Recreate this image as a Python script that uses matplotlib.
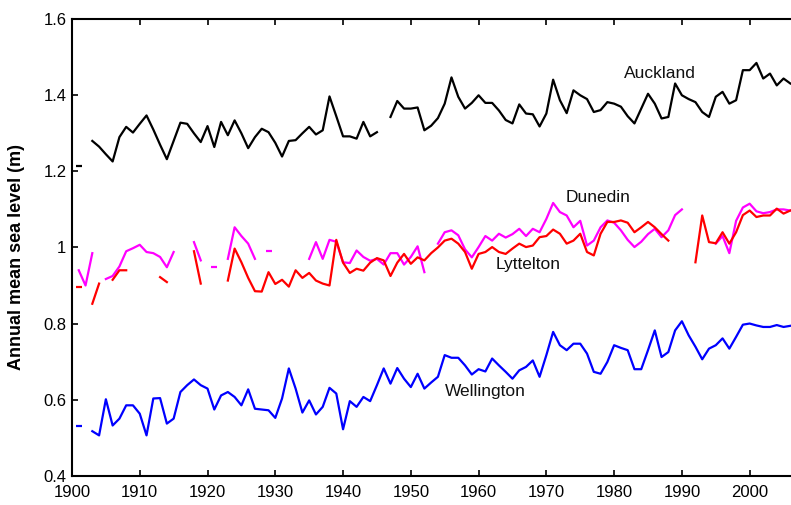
import numpy as np
import matplotlib
matplotlib.use("Agg")
import matplotlib.pyplot as plt

plt.rcParams["font.family"] = ["Liberation Sans", "DejaVu Sans"]

nan = np.nan
years = np.arange(1900, 2007)

# annual means, one row per decade (1900s ... 2000s)
auckland = [
    nan, 1.215, nan, 1.28, 1.265, 1.245, 1.226, 1.29, 1.317, 1.302,
    1.325, 1.347, 1.31, 1.27, 1.232, 1.28, 1.328, 1.325, 1.30, 1.277,
    1.319, 1.264, 1.330, 1.295, 1.334, 1.30, 1.261, 1.29, 1.312, 1.303,
    1.275, 1.239, 1.280, 1.282, 1.30, 1.317, 1.297, 1.308, 1.397, 1.345,
    1.292, 1.292, 1.286, 1.330, 1.292, 1.303, nan, 1.343, 1.385, 1.365,
    1.365, 1.368, 1.308, 1.32, 1.34, 1.378, 1.447, 1.396, 1.365, 1.38,
    1.400, 1.380, 1.380, 1.36, 1.335, 1.326, 1.376, 1.352, 1.350, 1.318,
    1.352, 1.441, 1.387, 1.353, 1.413, 1.40, 1.39, 1.356, 1.361, 1.382,
    1.378, 1.370, 1.345, 1.326, 1.365, 1.404, 1.378, 1.339, 1.343, 1.431,
    1.400, 1.39, 1.382, 1.356, 1.343, 1.396, 1.409, 1.378, 1.387, 1.466,
    1.466, 1.485, 1.444, 1.457, 1.426, 1.444, 1.431,
]
dunedin = [
    nan, 0.94, 0.90, 0.985, nan, 0.917, 0.925, 0.95, 0.99, 0.998,
    1.007, 0.988, 0.985, 0.975, 0.948, 0.988, nan, nan, 1.014, 0.966,
    nan, 0.948, nan, 0.97, 1.053, 1.03, 1.01, 0.97, nan, 0.99,
    nan, nan, nan, nan, nan, 0.970, 1.014, 0.97, 1.02, 1.015,
    0.961, 0.959, 0.992, 0.975, 0.965, 0.97, 0.955, 0.985, 0.985, 0.955,
    0.975, 1.003, 0.935, nan, 1.010, 1.040, 1.045, 1.032, 0.995, 0.974,
    1.001, 1.030, 1.018, 1.036, 1.026, 1.035, 1.049, 1.030, 1.049, 1.040,
    1.075, 1.117, 1.093, 1.084, 1.053, 1.070, 1.005, 1.018, 1.053, 1.071,
    1.065, 1.045, 1.02, 1.001, 1.015, 1.035, 1.049, 1.027, 1.045, 1.085,
    1.100, nan, nan, nan, nan, 1.01, 1.03, 0.985, 1.07, 1.105,
    1.115, 1.095, 1.09, 1.093, 1.10, 1.10, 1.097,
]
lyttelton = [
    nan, 0.897, nan, 0.852, 0.905, nan, 0.915, 0.94, 0.94, nan,
    nan, nan, nan, 0.922, 0.909, nan, nan, nan, 0.99, 0.905,
    nan, nan, nan, 0.913, 0.997, 0.961, 0.92, 0.885, 0.884, 0.935,
    0.904, 0.915, 0.897, 0.94, 0.92, 0.933, 0.913, 0.905, 0.90, 1.02,
    0.96, 0.933, 0.944, 0.939, 0.96, 0.972, 0.966, 0.925, 0.96, 0.983,
    0.957, 0.974, 0.966, 0.985, 1.0, 1.018, 1.023, 1.010, 0.988, 0.944,
    0.983, 0.988, 1.001, 0.988, 0.983, 0.997, 1.010, 1.001, 1.005, 1.027,
    1.03, 1.047, 1.036, 1.010, 1.018, 1.036, 0.988, 0.979, 1.036, 1.067,
    1.067, 1.071, 1.065, 1.040, 1.053, 1.067, 1.053, 1.035, 1.018, nan,
    nan, nan, 0.961, 1.084, 1.014, 1.011, 1.040, 1.010, 1.04, 1.085,
    1.097, 1.080, 1.084, 1.084, 1.102, 1.089, 1.097,
]
wellington = [
    nan, 0.530, nan, 0.517, 0.506, 0.601, 0.532, 0.550, 0.585, 0.585,
    0.563, 0.506, 0.603, 0.604, 0.537, 0.550, 0.620, 0.638, 0.653, 0.638,
    0.629, 0.574, 0.611, 0.620, 0.607, 0.585, 0.627, 0.576, 0.574, 0.572,
    0.552, 0.603, 0.682, 0.629, 0.566, 0.598, 0.561, 0.581, 0.631, 0.616,
    0.522, 0.596, 0.581, 0.607, 0.596, 0.638, 0.682, 0.642, 0.683, 0.655,
    0.633, 0.668, 0.629, 0.645, 0.66, 0.717, 0.710, 0.710, 0.690, 0.666,
    0.680, 0.674, 0.708, 0.690, 0.673, 0.655, 0.677, 0.686, 0.703, 0.660,
    0.717, 0.778, 0.743, 0.730, 0.747, 0.747, 0.721, 0.673, 0.668, 0.699,
    0.743, 0.736, 0.730, 0.680, 0.680, 0.730, 0.782, 0.712, 0.725, 0.782,
    0.806, 0.769, 0.739, 0.706, 0.734, 0.743, 0.761, 0.734, 0.765, 0.797,
    0.800, 0.795, 0.791, 0.791, 0.796, 0.791, 0.794,
]

stations = ["Auckland", "Dunedin", "Lyttelton", "Wellington"]
series = [auckland, dunedin, lyttelton, wellington]
colors = ["black", "#ff00ff", "#ff0000", "#0000ff"]
label_pos = [(1986.7, 1.457), (1977.7, 1.130), (1967.3, 0.954), (1961.0, 0.622)]

xticks = np.arange(1900, 2001, 10)
yticks = [0.4, 0.6, 0.8, 1.0, 1.2, 1.4, 1.6]
ytick_labels = ["0.4", "0.6", "0.8", "1", "1.2", "1.4", "1.6"]

fig = plt.figure(figsize=(7.91, 5.05), dpi=100)
ax = fig.add_axes([0.091, 0.058, 0.909, 0.904])

for name, vals, col, (tx, ty) in zip(stations, series, colors, label_pos):
    v = np.array(vals, dtype=float)
    ax.plot(years, v, color=col, lw=1.6)
    # isolated single years show up as short marks
    ok = np.isfinite(v)
    prev = np.r_[False, ok[:-1]]
    nxt = np.r_[ok[1:], False]
    lone = ok & ~prev & ~nxt
    ax.plot(years[lone], v[lone], ls="none", marker="_", ms=4, mew=1.6, color=col)
    ax.text(tx, ty, name, ha="center", va="center", fontsize=12.5, color="#111111")

ax.set_xlim(1900, 2006.1)
ax.set_ylim(0.4, 1.6)
ax.set_xticks(xticks)
ax.set_yticks(yticks)
ax.set_yticklabels(ytick_labels)
ax.tick_params(direction="in", length=4, width=1.2, labelsize=12, top=True,
               pad=4)
ax.tick_params(axis="x", pad=7)
for s in ["left", "bottom", "top"]:
    ax.spines[s].set_linewidth(1.5)
ax.spines["right"].set_visible(False)
ax.set_ylabel("Annual mean sea level (m)", fontsize=13, fontweight="bold")
ax.yaxis.set_label_coords(-0.066, 0.48)

fig.savefig("out.png", dpi=100)
